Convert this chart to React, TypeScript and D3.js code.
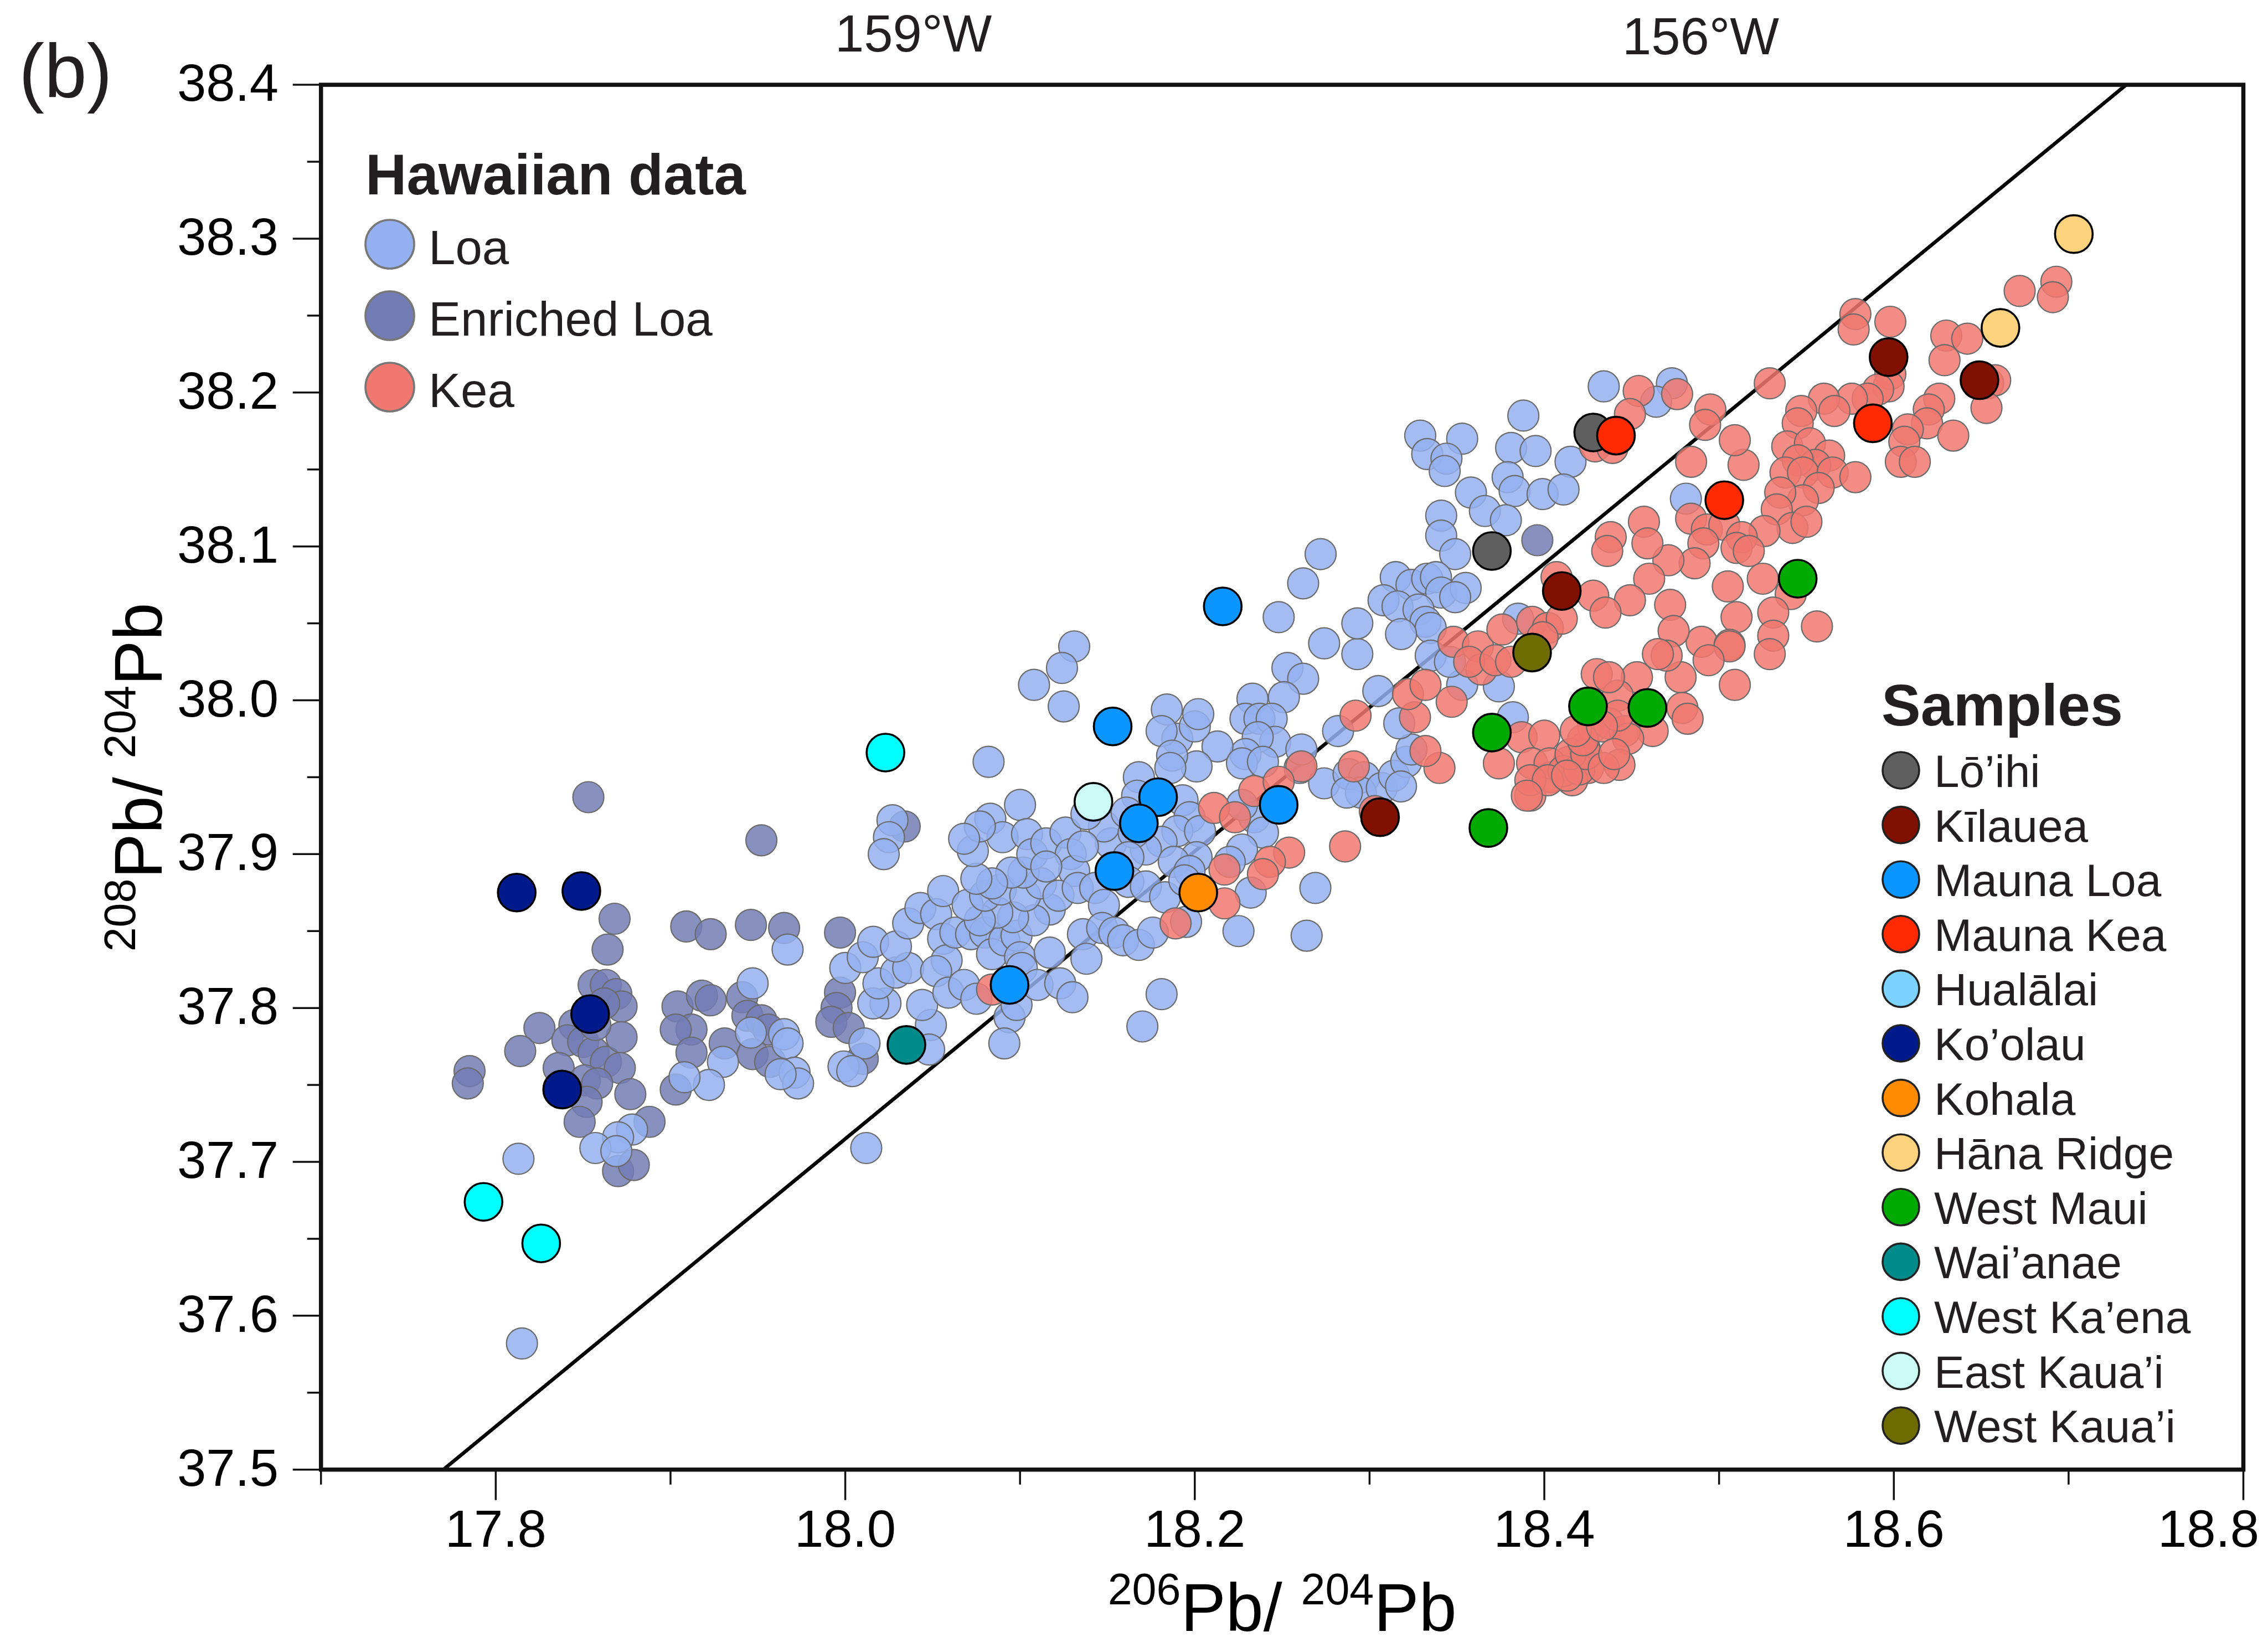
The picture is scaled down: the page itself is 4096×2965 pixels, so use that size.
import React from "react";
import * as d3 from "d3";

const W = 4096;
const H = 2965;
const FONT = "'Liberation Sans', Arial, Helvetica, sans-serif";
const INK = "#231F20";

// ---------- axes ----------
const xDomain = [17.7, 18.8];
const yDomain = [37.5, 38.4];
const xMajorTicks = [17.8, 18.0, 18.2, 18.4, 18.6, 18.8];
const xMinorTicks = [17.7, 17.9, 18.1, 18.3, 18.5, 18.7];
const yMajorTicks = [37.5, 37.6, 37.7, 37.8, 37.9, 38.0, 38.1, 38.2, 38.3, 38.4];
const yMinorTicks = [37.55, 37.65, 37.75, 37.85, 37.95, 38.05, 38.15, 38.25, 38.35];
const topLabels = ["159°W", "156°W"];
const topLabelX = [18.039, 18.4895];

// reference line endpoints (206Pb/204Pb, 208Pb/204Pb)
const refLineX = [17.77, 18.733];
const refLineY = [37.5, 38.4];

// ---------- Hawaiian data ----------
const enrichedLoa = [
  [17.853,37.937],[17.952,37.909],[17.868,37.858],[17.864,37.838],[17.909,37.853],[17.923,37.848],
  [17.946,37.854],[17.965,37.852],[17.825,37.787],[17.814,37.772],[17.785,37.759],[17.784,37.751],
  [17.856,37.815],[17.863,37.815],[17.869,37.809],[17.872,37.801],[17.845,37.789],[17.841,37.779],
  [17.85,37.778],[17.856,37.771],[17.863,37.765],[17.871,37.761],[17.872,37.781],[17.877,37.744],
  [17.836,37.761],[17.851,37.753],[17.858,37.751],[17.852,37.739],[17.848,37.726],[17.87,37.694],
  [17.879,37.698],[17.888,37.726],[17.904,37.801],[17.918,37.808],[17.923,37.805],[17.912,37.786],
  [17.903,37.786],[17.912,37.771],[17.903,37.747],[17.931,37.777],[17.941,37.807],[17.944,37.795],
  [17.952,37.792],[17.956,37.786],[17.947,37.77],[17.957,37.765],[17.857,37.789],[17.862,37.803],
  [18.034,37.918],[17.997,37.849],[17.997,37.81],[17.995,37.8],[17.992,37.791],[18.002,37.787],
  [18.01,37.767],[18.396,38.104]
];

const loa = [
  [17.967,37.838],[17.947,37.816],[17.946,37.784],[17.965,37.783],[17.967,37.777],[17.971,37.758],
  [17.973,37.751],[17.963,37.757],[17.93,37.765],[17.922,37.75],[17.908,37.755],[17.878,37.721],
  [17.87,37.716],[17.857,37.709],[17.869,37.707],[17.813,37.702],[17.815,37.582],
  [18.131,38.035],[18.124,38.021],[18.108,38.01],[18.125,37.996],[18.082,37.96],[18.027,37.922],
  [18.025,37.911],[18.022,37.9],[18.0,37.826],[18.011,37.777],[17.999,37.762],[18.004,37.759],
  [18.012,37.709],[18.049,37.789],[18.048,37.773],[18.044,37.802],[18.023,37.803],[18.016,37.803],
  [18.019,37.816],[18.029,37.823],[18.036,37.826],[18.01,37.833],[18.016,37.843],[18.029,37.84],
  [18.036,37.855],[18.043,37.865],[18.052,37.861],[18.056,37.876],[18.056,37.845],[18.058,37.831],
  [18.052,37.824],[18.059,37.81],[18.068,37.815],[18.075,37.806],[18.063,37.849],[18.072,37.848],
  [18.08,37.849],[18.084,37.835],[18.091,37.844],[18.098,37.847],[18.1,37.833],[18.101,37.826],
  [18.094,37.794],[18.091,37.777],[18.098,37.802],[18.11,37.815],[18.117,37.836],[18.123,37.816],
  [18.13,37.807],[18.136,37.848],[18.138,37.832],[18.117,37.864],[18.108,37.857],[18.096,37.859],
  [18.087,37.862],[18.077,37.857],[18.07,37.867],[18.08,37.873],[18.089,37.877],[18.103,37.873],
  [18.112,37.881],[18.102,37.888],[18.095,37.888],[18.084,37.881],[18.075,37.884],[18.073,37.902],
  [18.083,37.923],[18.09,37.911],[18.1,37.932],[18.104,37.913],[18.107,37.9],[18.115,37.907],
  [18.126,37.914],[18.129,37.9],[18.131,37.889],[18.122,37.873],[18.133,37.878],[18.143,37.878],
  [18.148,37.867],[18.152,37.907],[18.148,37.918],[18.138,37.926],[18.136,37.905],[18.077,37.918],
  [18.068,37.91],[18.115,37.892],[18.147,37.852],[18.154,37.849],[18.159,37.844],[18.168,37.841],
  [18.176,37.849],[18.195,37.856],[18.181,37.809],[18.17,37.788],[18.225,37.85],[18.264,37.847],
  [18.388,38.185],[18.329,38.172],[18.353,38.17],[18.333,38.16],[18.344,38.157],[18.343,38.149],
  [18.381,38.164],[18.395,38.162],[18.415,38.155],[18.379,38.145],[18.383,38.136],[18.399,38.134],
  [18.411,38.137],[18.358,38.135],[18.366,38.123],[18.378,38.117],[18.341,38.12],[18.341,38.107],
  [18.349,38.095],[18.272,38.095],[18.262,38.076],[18.248,38.054],[18.274,38.037],[18.293,38.03],
  [18.293,38.05],[18.315,38.08],[18.324,38.075],[18.333,38.079],[18.338,38.08],[18.341,38.07],
  [18.355,38.073],[18.349,38.067],[18.308,38.065],[18.316,38.061],[18.328,38.059],[18.332,38.051],
  [18.335,38.047],[18.318,38.043],[18.253,38.021],[18.262,38.014],[18.233,38.001],[18.251,38.002],
  [18.229,37.988],[18.237,37.988],[18.244,37.988],[18.246,37.973],[18.236,37.976],[18.229,37.965],
  [18.213,37.97],[18.201,37.957],[18.19,37.975],[18.184,37.994],[18.181,37.98],[18.2,37.983],
  [18.202,37.991],[18.187,37.964],[18.186,37.956],[18.168,37.95],[18.167,37.938],[18.193,37.935],
  [18.197,37.924],[18.19,37.915],[18.181,37.908],[18.172,37.903],[18.203,37.915],[18.201,37.898],
  [18.188,37.895],[18.197,37.889],[18.161,37.927],[18.165,37.914],[18.162,37.898],[18.162,37.882],
  [18.172,37.879],[18.183,37.872],[18.227,37.959],[18.239,37.96],[18.26,37.956],[18.261,37.968],
  [18.274,37.946],[18.288,37.952],[18.297,37.95],[18.295,37.94],[18.307,37.943],[18.314,37.951],
  [18.321,37.96],[18.324,37.968],[18.318,37.944],[18.287,37.94],[18.234,37.924],[18.227,37.932],
  [18.239,37.914],[18.227,37.903],[18.22,37.895],[18.232,37.875],[18.269,37.878],[18.194,37.883],
  [18.282,37.98],[18.305,38.006],[18.317,37.985],[18.353,38.01],[18.374,38.009],[18.335,38.029],
  [18.346,38.025],[18.385,38.053],[18.382,37.989],
  [18.434,38.204],[18.473,38.206],[18.464,38.194],[18.481,38.131]
];

const kea = [
  [18.084,37.812],[18.189,37.855],
  [18.261,37.957],[18.211,37.93],[18.223,37.924],[18.234,37.941],[18.248,37.947],[18.291,37.957],
  [18.303,37.928],[18.286,37.905],[18.254,37.901],[18.243,37.895],[18.239,37.887],[18.217,37.89],
  [18.217,37.868],[18.34,37.956],[18.332,37.967],[18.292,37.99],[18.326,37.989],[18.322,38.004],
  [18.332,38.01],[18.347,37.999],[18.348,38.038],[18.362,38.035],[18.364,38.02],[18.357,38.025],
  [18.372,38.026],[18.381,38.025],[18.376,38.046],[18.393,38.051],[18.402,38.047],[18.41,38.053],
  [18.407,38.08],[18.399,38.041],[18.374,37.959],[18.387,37.976],[18.4,37.977],[18.393,37.959],
  [18.392,37.938],[18.404,37.95],[18.414,37.96],[18.423,37.969],[18.428,37.983],[18.425,37.956],
  [18.416,37.948],[18.43,38.017],[18.428,38.068],[18.429,38.165],
  [18.403,37.959],[18.411,37.954],[18.42,37.955],[18.415,37.965],[18.424,37.965],[18.422,37.974],
  [18.418,37.98],[18.392,37.948],[18.402,37.948],[18.39,37.938],[18.413,37.951],
  [18.693,38.272],[18.691,38.262],[18.672,38.266],[18.578,38.251],[18.577,38.241],[18.598,38.246],
  [18.63,38.237],[18.642,38.235],[18.629,38.221],[18.654,38.206],[18.658,38.208],[18.653,38.19],
  [18.626,38.196],[18.62,38.189],[18.619,38.18],[18.634,38.172],[18.608,38.176],[18.606,38.168],
  [18.604,38.155],[18.612,38.155],[18.598,38.212],[18.597,38.204],[18.591,38.202],[18.585,38.196],
  [18.576,38.196],[18.56,38.196],[18.566,38.188],[18.547,38.188],[18.545,38.18],[18.539,38.165],
  [18.552,38.167],[18.563,38.159],[18.555,38.153],[18.545,38.156],[18.538,38.148],[18.548,38.148],
  [18.565,38.148],[18.578,38.145],[18.557,38.138],[18.548,38.13],[18.535,38.135],[18.533,38.124],
  [18.542,38.112],[18.55,38.116],[18.526,38.11],[18.514,38.153],[18.509,38.169],[18.484,38.155],
  [18.529,38.206],[18.495,38.189],[18.492,38.179],[18.476,38.199],[18.454,38.201],[18.449,38.186],
  [18.439,38.164],[18.504,38.13],[18.484,38.118],[18.493,38.111],[18.503,38.114],[18.513,38.106],
  [18.51,38.099],[18.517,38.097],[18.491,38.102],[18.486,38.089],[18.471,38.091],[18.457,38.116],
  [18.459,38.102],[18.438,38.106],[18.436,38.097],[18.46,38.079],[18.449,38.065],[18.435,38.057],
  [18.472,38.062],[18.505,38.074],[18.525,38.079],[18.541,38.069],[18.531,38.057],[18.51,38.054],
  [18.531,38.042],[18.556,38.048],[18.49,38.038],[18.506,38.036],[18.474,38.045],
  [18.509,38.01],[18.529,38.03],[18.506,38.035],[18.494,38.026],[18.478,38.015],[18.47,38.029],
  [18.465,38.03],[18.479,37.995],[18.482,37.988],[18.462,37.98],[18.453,38.015],[18.442,38.003],
  [18.437,37.985],[18.446,37.98],[18.448,37.975],[18.442,37.99],[18.433,37.983],[18.443,37.958],
  [18.434,37.956],[18.44,37.965],[18.437,38.015]
];

const hawaiianNames = ["Loa", "Enriched Loa", "Kea"];
const hawaiianColors = ["#94B0F0", "#737DB5", "#F07870"];

// ---------- Samples ----------
const sampleNames = ["Lō’ihi", "Kīlauea", "Mauna Loa", "Mauna Kea", "Hualālai", "Ko’olau", "Kohala",
  "Hāna Ridge", "West Maui", "Wai’anae", "West Ka’ena", "East Kaua’i", "West Kaua’i"];
const sampleColors = ["#5F5F5F", "#801100", "#0A95FF", "#FF2A00", "#7DD3FF", "#001A8C", "#FF8C00",
  "#FFD27D", "#00AA00", "#008B8B", "#00FFFF", "#CCFBF5", "#6E6B00"];
const loihi = [[18.37,38.097],[18.428,38.174]];
const kilauea = [[18.41,38.071],[18.306,37.924],[18.597,38.223],[18.649,38.208]];
const maunaLoa = [[18.216,38.061],[18.153,37.983],[18.179,37.937],[18.168,37.92],[18.154,37.889],[18.248,37.932],[18.094,37.815]];
const maunaKea = [[18.441,38.172],[18.503,38.13],[18.588,38.18]];
const hualalai = [];
const koolau = [[17.812,37.875],[17.849,37.876],[17.854,37.796],[17.838,37.747]];
const kohala = [[18.202,37.875]];
const hanaRidge = [[18.703,38.303],[18.661,38.242]];
const westMaui = [[18.37,37.979],[18.368,37.917],[18.425,37.996],[18.459,37.995],[18.545,38.079]];
const waianae = [[18.035,37.776]];
const westKaena = [[17.793,37.674],[17.826,37.647],[18.023,37.966]];
const eastKauai = [[18.142,37.934]];
const westKauai = [[18.393,38.031]];
const sampleSets = [loihi, kilauea, maunaLoa, maunaKea, hualalai, koolau, kohala, hanaRidge,
  westMaui, waianae, westKaena, eastKauai, westKauai];

export default function App() {
  const x = d3.scaleLinear().domain(xDomain).range([571.7, 4043.5]);
  const y = d3.scaleLinear().domain(yDomain).range([2645.7, 145.1]);
  const [x0, x1] = x.range();
  const [y0, y1] = y.range();
  const fmt1 = d3.format(".1f");
  const line = d3.line<number>().x((d, i) => x(refLineX[i])).y((d, i) => y(refLineY[i]));

  const dataR = 28;
  const sampleR = 34;
  const layers = [enrichedLoa, loa, kea];
  const layerColor = [hawaiianColors[1], hawaiianColors[0], hawaiianColors[2]];
  const labelRightLimit = 4072;

  return (
    <svg width={W} height={H} viewBox={`0 0 ${W} ${H}`} style={{ display: "block", background: "#fff" }}
      fontFamily={FONT}>
      <rect x={0} y={0} width={W} height={H} fill="#fff" />
      {/* panel label */}
      <text x={26} y={168} fontSize={138} fill={INK}>(b)</text>

      {/* top longitude labels */}
      {topLabels.map((t, i) => (
        <text key={t} x={x(topLabelX[i])} y={i === 0 ? 85 : 90} fontSize={94} textAnchor="middle" fill={INK}>{t}</text>
      ))}

      {/* reference line */}
      <path d={line([0, 1]) || ""} stroke="#000" strokeWidth={6.5} fill="none" />

      {/* Hawaiian data */}
      {layers.map((pts, li) => (
        <g key={li}>
          {pts.map((p, i) => (
            <circle key={i} cx={x(p[0])} cy={y(p[1])} r={dataR} fill={layerColor[li]} fillOpacity={0.85}
              stroke="#6B6B6B" strokeWidth={2.2} />
          ))}
        </g>
      ))}

      {/* Samples */}
      {sampleSets.map((pts, si) => (
        <g key={si}>
          {pts.map((p, i) => (
            <circle key={i} cx={x(p[0])} cy={y(p[1])} r={sampleR} fill={sampleColors[si]}
              stroke="#000" strokeWidth={3.6} />
          ))}
        </g>
      ))}

      {/* frame */}
      <rect x={x0} y={y1} width={x1 - x0} height={y0 - y1} fill="none" stroke="#111" strokeWidth={7.5} />

      {/* y ticks */}
      {yMajorTicks.map(t => (
        <g key={"ym" + t}>
          <line x1={x0 - 51} x2={x0} y1={y(t)} y2={y(t)} stroke="#111" strokeWidth={3.5} />
          <text x={495} y={y(t)} dy="0.31em" fontSize={94} textAnchor="end" fill="#000">{fmt1(t)}</text>
        </g>
      ))}
      {yMinorTicks.map(t => (
        <line key={"yn" + t} x1={x0 - 25} x2={x0} y1={y(t)} y2={y(t)} stroke="#111" strokeWidth={3.5} />
      ))}
      {/* x ticks */}
      {xMajorTicks.map(t => {
        const last = x(t) + 92 > labelRightLimit;
        return (
          <g key={"xm" + t}>
            <line x1={x(t)} x2={x(t)} y1={y0} y2={y0 + 55} stroke="#111" strokeWidth={3.5} />
            <text x={last ? labelRightLimit : x(t)} y={2785} fontSize={94} textAnchor={last ? "end" : "middle"} fill="#000">{fmt1(t)}</text>
          </g>
        );
      })}
      {xMinorTicks.map(t => (
        <line key={"xn" + t} x1={x(t)} x2={x(t)} y1={y0} y2={y0 + 27} stroke="#111" strokeWidth={3.5} />
      ))}

      {/* axis titles */}
      <text x={(x0 + x1) / 2} y={2937} fontSize={122} textAnchor="middle" fill="#000">
        <tspan fontSize={79} dy={-48}>206</tspan><tspan dy={48}>Pb/ </tspan>
        <tspan fontSize={79} dy={-48}>204</tspan><tspan dy={48}>Pb</tspan>
      </text>
      <text transform={`translate(284,${(y0 + y1) / 2}) rotate(-90)`} fontSize={122} textAnchor="middle" fill="#000">
        <tspan fontSize={79} dy={-48}>208</tspan><tspan dy={48}>Pb/ </tspan>
        <tspan fontSize={79} dy={-48}>204</tspan><tspan dy={48}>Pb</tspan>
      </text>

      {/* Hawaiian data legend */}
      <text x={652} y={343} fontSize={103} fontWeight="bold" fill={INK}>Hawaiian data</text>
      {hawaiianNames.map((n, i) => {
        const cy = 433 + i * 129;
        return (
          <g key={n}>
            <circle cx={696} cy={cy} r={44} fill={hawaiianColors[i]} stroke="#777" strokeWidth={3.6} />
            <text x={766} y={cy + 36} fontSize={87} fill={INK}>{n}</text>
          </g>
        );
      })}

      {/* Samples legend */}
      <text x={3390} y={1302} fontSize={106} fontWeight="bold" fill={INK}>Samples</text>
      {sampleNames.map((n, i) => {
        const cy = 1383 + i * 98.6;
        return (
          <g key={n}>
            <circle cx={3425} cy={cy} r={33} fill={sampleColors[i]} stroke="#222" strokeWidth={3.6} />
            <text x={3485} y={cy + 30} fontSize={82} fill={INK}>{n}</text>
          </g>
        );
      })}
    </svg>
  );
}
